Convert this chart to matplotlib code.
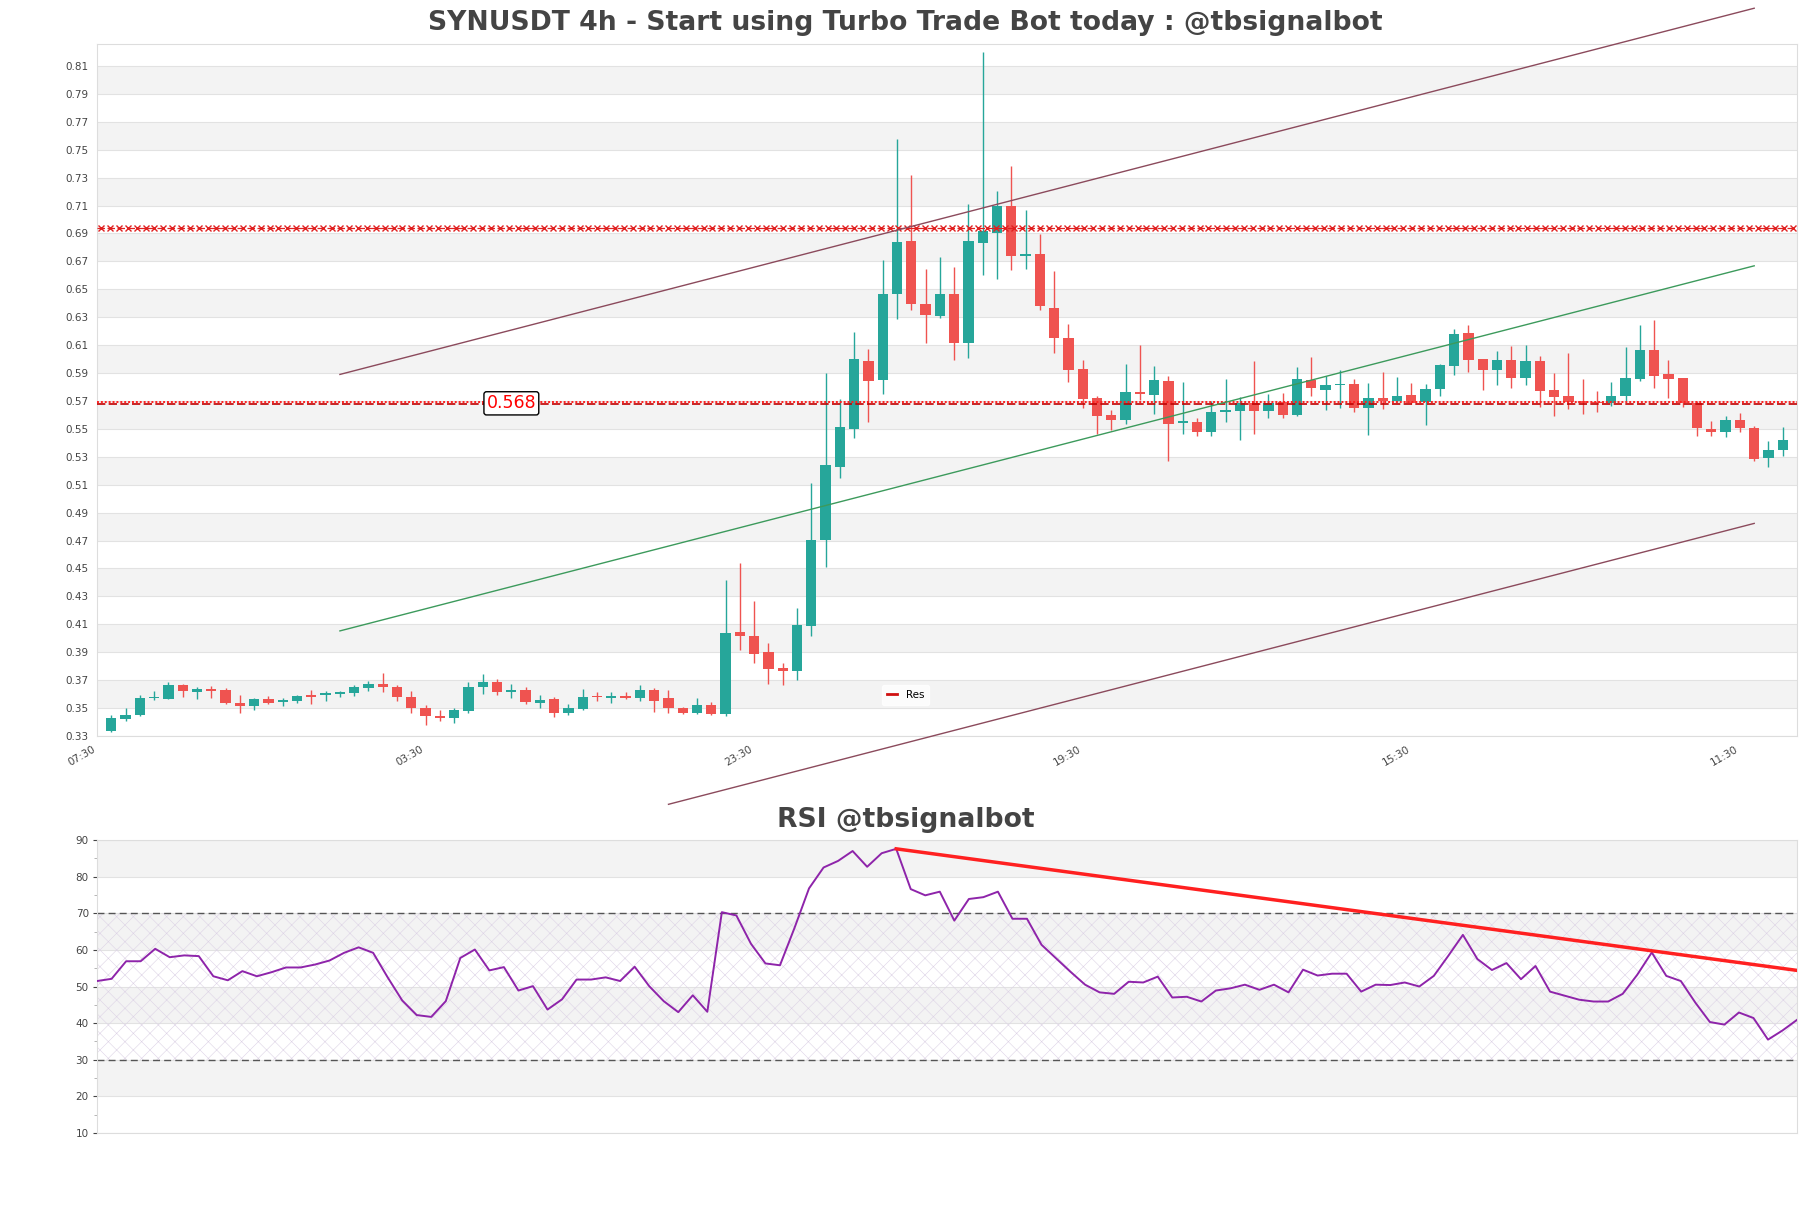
import numpy as np
import matplotlib
matplotlib.use("Agg")
import matplotlib.pyplot as plt
from matplotlib.lines import Line2D

# 4h candles, oldest first
opens = [
    0.3333, 0.3423, 0.3452, 0.3570, 0.3567, 0.3669, 0.3613, 0.3640, 0.3633, 0.3539,
    0.3512, 0.3565, 0.3541, 0.3553, 0.3587, 0.3592, 0.3601, 0.3606, 0.3647, 0.3671,
    0.3654, 0.3582, 0.3502, 0.3445, 0.3432, 0.3478, 0.3649, 0.3688, 0.3613, 0.3633,
    0.3536, 0.3567, 0.3466, 0.3496, 0.3582, 0.3574, 0.3589, 0.3569, 0.3627, 0.3569,
    0.3501, 0.3466, 0.3522, 0.3458, 0.4042, 0.4018, 0.3899, 0.3788, 0.3764, 0.4088,
    0.4702, 0.5227, 0.5502, 0.5987, 0.5852, 0.6465, 0.6843, 0.6396, 0.6312, 0.6468,
    0.6116, 0.6833, 0.6905, 0.7094, 0.6735, 0.6754, 0.6367, 0.6152, 0.5930, 0.5722,
    0.5600, 0.5566, 0.5765, 0.5746, 0.5844, 0.5545, 0.5547, 0.5475, 0.5619, 0.5631,
    0.5686, 0.5631, 0.5691, 0.5602, 0.5851, 0.5781, 0.5813, 0.5822, 0.5652, 0.5722,
    0.5703, 0.5743, 0.5691, 0.5786, 0.5954, 0.6188, 0.6001, 0.5925, 0.5994, 0.5867,
    0.5987, 0.5781, 0.5734, 0.5700, 0.5691, 0.5683, 0.5738, 0.5858, 0.6068, 0.5894,
    0.5865, 0.5686, 0.5499, 0.5475, 0.5564, 0.5506, 0.5291, 0.5347]
highs = [
    0.3448, 0.3500, 0.3596, 0.3623, 0.3688, 0.3676, 0.3652, 0.3659, 0.3645, 0.3592,
    0.3570, 0.3587, 0.3572, 0.3596, 0.3628, 0.3623, 0.3620, 0.3664, 0.3695, 0.3748,
    0.3669, 0.3623, 0.3519, 0.3483, 0.3500, 0.3688, 0.3741, 0.3707, 0.3676, 0.3652,
    0.3592, 0.3580, 0.3531, 0.3636, 0.3612, 0.3612, 0.3612, 0.3665, 0.3647, 0.3627,
    0.3510, 0.3569, 0.3545, 0.4415, 0.4538, 0.4269, 0.3969, 0.3823, 0.4220, 0.5110,
    0.5899, 0.5715, 0.6197, 0.6074, 0.6713, 0.7578, 0.7316, 0.6647, 0.6730, 0.6659,
    0.7113, 0.8196, 0.7206, 0.7380, 0.7065, 0.6898, 0.6628, 0.6252, 0.5994, 0.5738,
    0.5636, 0.5965, 0.6102, 0.5949, 0.5877, 0.5834, 0.5578, 0.5703, 0.5858, 0.5731,
    0.5989, 0.5750, 0.5755, 0.5942, 0.6013, 0.5877, 0.5925, 0.5858, 0.5829, 0.5910,
    0.5870, 0.5829, 0.5822, 0.5965, 0.6212, 0.6245, 0.6001, 0.6061, 0.6097, 0.6102,
    0.6025, 0.5901, 0.6044, 0.5858, 0.5774, 0.5834, 0.6085, 0.6245, 0.6283, 0.5994,
    0.5865, 0.5700, 0.5559, 0.5595, 0.5614, 0.5523, 0.5416, 0.5511]
lows = [
    0.3330, 0.3411, 0.3442, 0.3555, 0.3565, 0.3577, 0.3563, 0.3570, 0.3526, 0.3464,
    0.3488, 0.3526, 0.3512, 0.3536, 0.3531, 0.3551, 0.3577, 0.3587, 0.3623, 0.3613,
    0.3548, 0.3464, 0.3382, 0.3408, 0.3392, 0.3466, 0.3601, 0.3592, 0.3570, 0.3531,
    0.3502, 0.3435, 0.3452, 0.3490, 0.3548, 0.3539, 0.3565, 0.3554, 0.3472, 0.3466,
    0.3460, 0.3460, 0.3452, 0.3443, 0.3913, 0.3823, 0.3671, 0.3665, 0.3700, 0.4015,
    0.4512, 0.5151, 0.5437, 0.5548, 0.5750, 0.6284, 0.6348, 0.6116, 0.6293, 0.5990,
    0.6009, 0.6599, 0.6570, 0.6635, 0.6642, 0.6355, 0.6042, 0.5834, 0.5648, 0.5464,
    0.5492, 0.5535, 0.5707, 0.5607, 0.5272, 0.5464, 0.5452, 0.5452, 0.5552, 0.5423,
    0.5464, 0.5576, 0.5578, 0.5590, 0.5734, 0.5638, 0.5648, 0.5619, 0.5454, 0.5643,
    0.5695, 0.5679, 0.5528, 0.5738, 0.5887, 0.5910, 0.5781, 0.5815, 0.5791, 0.5815,
    0.5655, 0.5595, 0.5643, 0.5607, 0.5619, 0.5662, 0.5703, 0.5846, 0.5791, 0.5719,
    0.5655, 0.5452, 0.5452, 0.5440, 0.5475, 0.5272, 0.5229, 0.5308]
closes = [
    0.3428, 0.3452, 0.3575, 0.3575, 0.3669, 0.3620, 0.3640, 0.3625, 0.3534, 0.3512,
    0.3567, 0.3536, 0.3560, 0.3589, 0.3582, 0.3608, 0.3618, 0.3654, 0.3671, 0.3649,
    0.3577, 0.3502, 0.3440, 0.3430, 0.3488, 0.3654, 0.3688, 0.3613, 0.3633, 0.3541,
    0.3560, 0.3464, 0.3504, 0.3580, 0.3578, 0.3589, 0.3569, 0.3633, 0.3554, 0.3501,
    0.3466, 0.3519, 0.3458, 0.4036, 0.4018, 0.3887, 0.3782, 0.3764, 0.4094, 0.4707,
    0.5242, 0.5510, 0.5998, 0.5846, 0.6465, 0.6839, 0.6396, 0.6317, 0.6468, 0.6116,
    0.6843, 0.6915, 0.7094, 0.6735, 0.6754, 0.6377, 0.6152, 0.5923, 0.5714, 0.5595,
    0.5566, 0.5765, 0.5750, 0.5851, 0.5535, 0.5552, 0.5475, 0.5619, 0.5636, 0.5686,
    0.5631, 0.5686, 0.5602, 0.5858, 0.5791, 0.5815, 0.5815, 0.5652, 0.5722, 0.5703,
    0.5738, 0.5686, 0.5786, 0.5961, 0.6180, 0.5994, 0.5925, 0.5994, 0.5867, 0.5987,
    0.5774, 0.5731, 0.5691, 0.5686, 0.5683, 0.5738, 0.5865, 0.6068, 0.5882, 0.5858,
    0.5686, 0.5504, 0.5480, 0.5564, 0.5504, 0.5284, 0.5349, 0.5420]

rsi = [
    51.5, 52.1, 56.9, 56.9, 60.3, 58.0, 58.5, 58.3, 52.8, 51.7,
    54.2, 52.8, 53.9, 55.2, 55.2, 56.0, 57.1, 59.2, 60.7, 59.2,
    52.5, 46.2, 42.2, 41.7, 46.0, 57.8, 60.1, 54.4, 55.3, 48.9,
    50.1, 43.7, 46.5, 51.9, 51.9, 52.5, 51.5, 55.4, 50.1, 46.0,
    43.0, 47.6, 43.1, 70.3, 69.4, 61.7, 56.3, 55.8, 66.0, 76.8,
    82.5, 84.3, 87.0, 82.7, 86.4, 87.6, 76.6, 74.9, 75.9, 68.0,
    73.9, 74.4, 75.9, 68.5, 68.5, 61.4, 57.7, 54.0, 50.5, 48.4,
    48.0, 51.3, 51.1, 52.7, 47.0, 47.2, 45.9, 48.9, 49.5, 50.5,
    49.1, 50.5, 48.4, 54.6, 53.0, 53.5, 53.5, 48.6, 50.5, 50.4,
    51.1, 50.0, 52.9, 58.4, 64.1, 57.5, 54.5, 56.4, 52.0, 55.6,
    48.6, 47.5, 46.4, 45.9, 45.9, 48.0, 53.2, 59.3, 52.9, 51.5,
    45.6, 40.3, 39.6, 42.9, 41.4, 35.5, 38.0, 40.9]

tick_pos = [-1, 22, 45, 68, 91, 114]
tick_labels = ["07:30", "03:30", "23:30", "19:30", "15:30", "11:30"]

res_level = 0.568
res_level2 = 0.694
# channel lines: (x0, y0, x1, y1)
upper_line = (16, 0.589, 115, 0.8513)
mid_line = (16, 0.4053, 115, 0.6668)
lower_line = (39, 0.2811, 115, 0.4823)
rsi_trend = (55, 87.6, 117, 54.4)

up_col = "#26a69a"
dn_col = "#ef5350"

plt.rcParams["hatch.linewidth"] = 0.4
plt.rcParams["hatch.color"] = "#ddd3e6"

fig = plt.figure(figsize=(18.11, 12.08), dpi=100)
ax = fig.add_axes([0.0536, 0.3907, 0.9387, 0.5729])
ax2 = fig.add_axes([0.0536, 0.0621, 0.9387, 0.2425])

o = np.array(opens); h = np.array(highs); l = np.array(lows); c = np.array(closes)
x = np.arange(len(o))
cols = np.where(c >= o, up_col, dn_col)

# background bands
yt = np.arange(0.33, 0.8201, 0.02)
for v in np.arange(0.35, 0.80, 0.04):
    ax.axhspan(v, v + 0.02, color="#f3f3f3", zorder=0, lw=0)
for v in yt:
    ax.axhline(v, color="#e2e2e2", lw=0.8, zorder=0.5)

ax.vlines(x, l, h, colors=cols, lw=1.0, zorder=2)
body = np.maximum(np.abs(c - o), 0.0009)
ax.bar(x, body, bottom=np.minimum(o, c), width=0.72, color=cols, zorder=3, lw=0)

# resistance lines
ax.axhline(res_level, color="#c00000", ls=(0, (5, 2)), lw=1.2, zorder=4)
ax.axhline(res_level + 0.0012, color="#ff2020", ls=(0, (1, 1)), lw=1.4, zorder=4)
ax.axhline(res_level2, color="#e02020", ls=(0, (6, 2)), lw=0.9, zorder=4)
xm = np.arange(-0.7, 118, 0.62)
ax.plot(xm, [res_level2] * len(xm), ls="none", color="#e02020",
        marker="x", ms=3.8, mew=1.0, zorder=4)

ax.text(28, res_level + 0.0003, "%.3f" % res_level, color="red", fontsize=12.5,
        ha="center", va="center", zorder=6,
        bbox=dict(boxstyle="round,pad=0.15", fc="white", ec="black", lw=1))

for ln, colr in [(upper_line, "#8b4a5c"), (mid_line, "#3c9a5c"), (lower_line, "#8b4a5c")]:
    ax.plot([ln[0], ln[2]], [ln[1], ln[3]], color=colr, lw=1.0, zorder=5, clip_on=False)

ax.set_xlim(-1, len(o))
ax.set_ylim(0.33, 0.8257)
ax.set_yticks(yt)
ax.set_yticklabels(["%.2f" % v for v in yt])
ax.set_xticks(tick_pos)
ax.set_xticklabels(tick_labels, rotation=30, ha="right")
ax.tick_params(axis="both", length=0, labelsize=7.5, colors="#444444", pad=6)
for s in ax.spines.values():
    s.set_color("#dddddd")

leg = ax.legend([Line2D([0], [0], color="#d01010", lw=2)], ["Res"],
                loc="center", bbox_to_anchor=(0.5, 0.4247),
                bbox_transform=fig.transFigure, fontsize=7.5, frameon=True,
                handlelength=1.0, borderpad=0.5)
leg.get_frame().set_edgecolor("white")
leg.get_frame().set_facecolor("white")

fig.text(0.5, 0.981, "SYNUSDT 4h - Start using Turbo Trade Bot today : @tbsignalbot",
         ha="center", va="center", fontsize=19.2, fontweight="bold", color="#444444")

# RSI panel
xr = np.arange(len(rsi))
for lo, hi in [(80, 90), (60, 70), (40, 50), (20, 30)]:
    ax2.axhspan(lo, hi, color="#f3f3f3", lw=0, zorder=0)
for v in range(10, 91, 10):
    ax2.axhline(v, color="#e2e2e2", lw=0.8, zorder=0.5)
ax2.fill_between([0, len(rsi) - 1], 30, 70, facecolor="none", hatch="xx",
                 edgecolor="#ddd3e6", lw=0, zorder=1)
ax2.axhline(70, color="#555555", ls=(0, (5, 3)), lw=1.0, zorder=2)
ax2.axhline(30, color="#555555", ls=(0, (5, 3)), lw=1.0, zorder=2)
ax2.plot(xr, rsi, color="#8e24aa", lw=1.4, zorder=3)
ax2.plot([rsi_trend[0], rsi_trend[2]], [rsi_trend[1], rsi_trend[3]], color="#ff2020",
         lw=2.5, zorder=4)
ax2.set_xlim(0, len(rsi) - 1)
ax2.set_ylim(10, 90)
ax2.set_yticks(range(10, 91, 10))
ax2.set_yticks(range(15, 90, 10), minor=True)
ax2.set_xticks([])
ax2.tick_params(axis="y", which="major", length=3, labelsize=7.5, colors="#444444", pad=3)
ax2.tick_params(axis="y", which="minor", length=2, colors="#aaaaaa")
for s in ax2.spines.values():
    s.set_color("#dddddd")

fig.text(0.5, 0.321, "RSI @tbsignalbot", ha="center", va="center",
         fontsize=19.2, fontweight="bold", color="#444444")

fig.savefig("out.png", dpi=100)
